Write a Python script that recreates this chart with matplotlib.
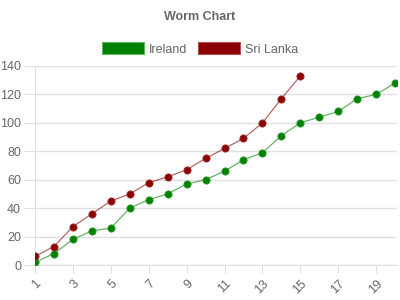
import matplotlib
matplotlib.use('Agg')
import matplotlib.pyplot as plt
from matplotlib.patches import Patch

overs = list(range(1, 21))
ireland = [2, 8, 18, 24, 26, 40, 46, 50, 57, 60, 66, 74, 79, 91, 100, 104, 108, 117, 120, 128]
sri_lanka = [6, 13, 27, 36, 45, 50, 58, 62, 67, 75, 82, 89, 100, 117, 133]
tick_labels = [str(o) for o in overs[::2]]

GREEN = '#008000'
RED = '#8b0000'
TXT = '#666666'
GRID = '#e0e0e0'

plt.rcParams['font.family'] = ['Liberation Sans', 'DejaVu Sans']

fig = plt.figure(figsize=(4, 3), dpi=100)
ax = fig.add_axes([35/400, 35/300, 362/400, 199/300])

ax.plot(overs, ireland, color=GREEN, lw=0.9, alpha=0.6, zorder=2)
ax.plot(overs, ireland, ls='none', marker='o', ms=5.2, color=GREEN, mec='#2a9a2a', mew=0.6, zorder=3)
x_sl = overs[:len(sri_lanka)]
ax.plot(x_sl, sri_lanka, color=RED, lw=0.9, alpha=0.6, zorder=2)
ax.plot(x_sl, sri_lanka, ls='none', marker='o', ms=5.2, color=RED, mec='#a33030', mew=0.6, zorder=3)

ax.set_xlim(1, 20.1)
ax.set_ylim(0, 140)
ax.set_yticks(range(0, 141, 20))
ax.set_xticks(overs[::2])
ax.set_xticklabels(tick_labels, rotation=45, ha='right', rotation_mode='anchor')
ax.yaxis.grid(True, color=GRID, lw=1)
ax.set_axisbelow(True)
for s in ['top', 'right']:
    ax.spines[s].set_visible(False)
for s in ['left', 'bottom']:
    ax.spines[s].set_color(GRID)
ax.tick_params(axis='y', length=8, color=GRID, labelsize=9, labelcolor=TXT, pad=2)
ax.tick_params(axis='x', length=6, color=GRID, labelsize=9, labelcolor=TXT, pad=3)

fig.text(0.5, 1 - 17/300, 'Worm Chart', ha='center', va='center', fontsize=9, fontweight='bold', color=TXT)

handles = [Patch(facecolor=GREEN, edgecolor='#5cb85c', lw=0.8, label='Ireland'),
           Patch(facecolor=RED, edgecolor='#b05050', lw=0.8, label='Sri Lanka')]
leg = fig.legend(handles=handles, loc='center', bbox_to_anchor=(0.5, 1 - 49/300), ncol=2,
                 frameon=False, fontsize=9, handlelength=3.4, handleheight=1.1,
                 handletextpad=0.4, columnspacing=0.8)
for t in leg.get_texts():
    t.set_color(TXT)

fig.savefig('out.png', dpi=100)
